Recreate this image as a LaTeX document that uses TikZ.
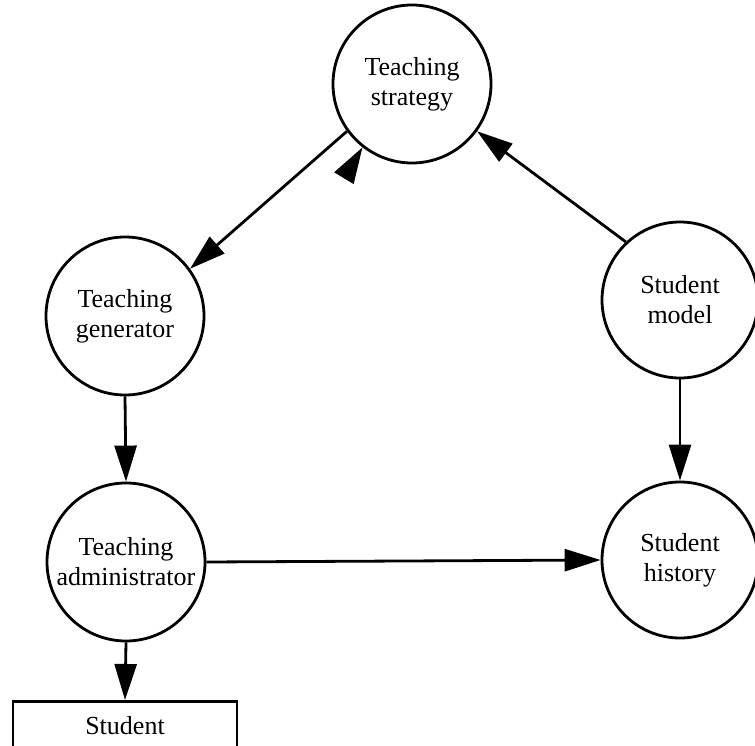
\documentclass[tikz,border=0pt]{standalone}
\usepackage{fontspec}
\setmainfont{Liberation Serif}
\usetikzlibrary{arrows.meta}

\tikzset{
  unit/.style={draw, circle, line width=2.8pt, minimum size=158pt, inner sep=0pt,
    align=center, font=\fontsize{26}{30}\selectfont},
  storebox/.style={draw, rectangle, line width=2.8pt, anchor=north,
    minimum width=224pt, inner xsep=0pt, inner ysep=13pt,
    text height=20pt, text depth=60pt, font=\fontsize{26}{30}\selectfont},
  flow/.style={line width=2.8pt, -{Triangle[length=36pt,width=22pt]}}
}

\begin{document}
\begin{tikzpicture}[x=1pt, y=-1pt]
  \useasboundingbox (0,0) rectangle (755,746);

  % processing units
  \node[unit] (strategy) at (412,84)  {Teaching\\strategy};
  \node[unit] (generator) at (125,316) {Teaching\\generator};
  \node[unit] (admin) at (126,562) {Teaching\\administrator};
  \node[unit, minimum size=156pt] (model) at (680,300) {Student\\model};
  \node[unit, minimum size=156pt] (history) at (680,560) {Student\\history};

  % output store at the bottom
  \node[storebox] (student) at (125,700) {Student};

  % flows between units
  \draw[flow] (strategy.216) -- (generator.36);
  \draw[flow] (model.133) -- (strategy.-36);
  \draw[flow] (generator.south) -- (admin.north);
  \draw[flow] (model.south) -- (history.north);
  \draw[flow] (admin.east) -- (history.west);
  \draw[flow] (admin.south) -- (student.north);

  % return head pointing back into the strategy unit
  \coordinate (back) at (344,178);
  \draw[flow] (back) -- (strategy.232);
\end{tikzpicture}
\end{document}
